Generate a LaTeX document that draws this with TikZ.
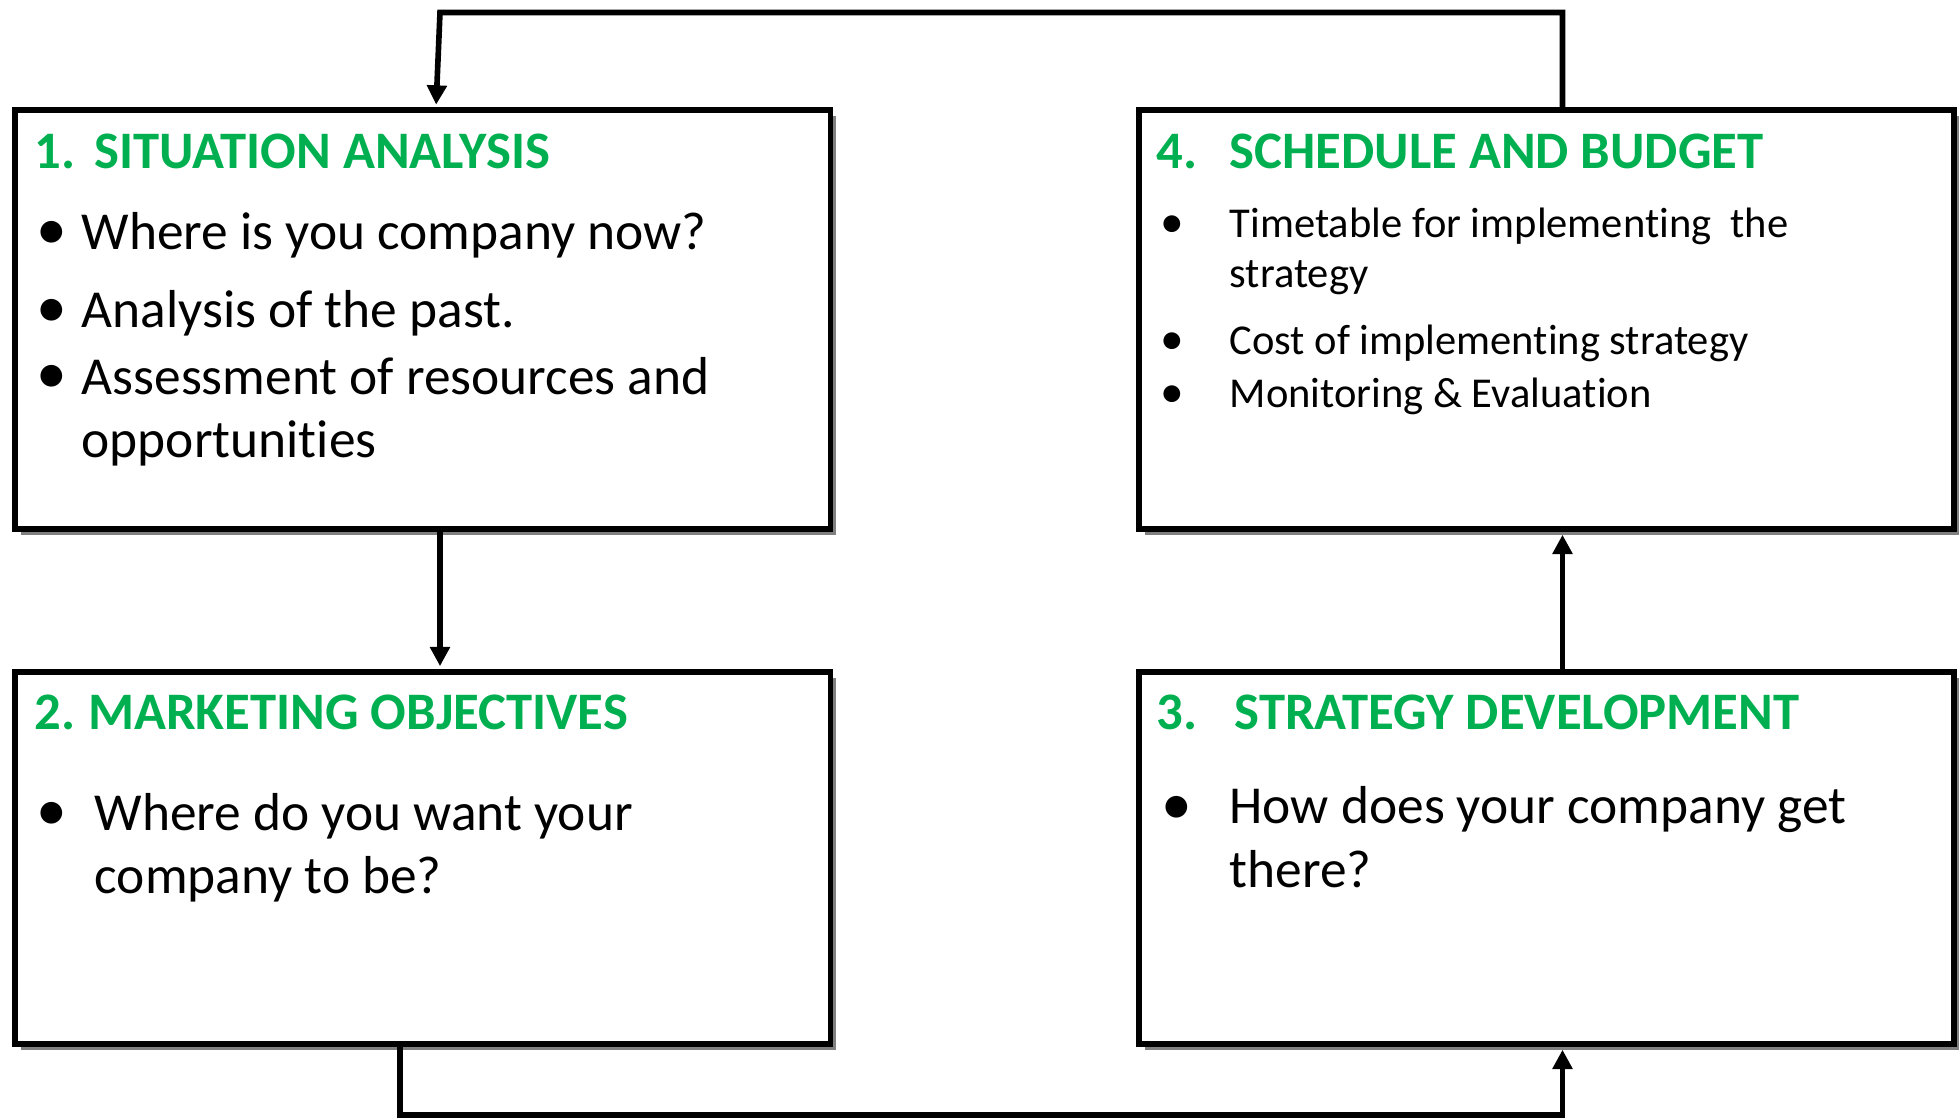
\documentclass[tikz,border=0pt]{standalone}
\usepackage{fontspec}
\setmainfont[Ligatures={NoCommon,NoContextual}]{Carlito}
\usetikzlibrary{arrows.meta, positioning, shadows, calc}
\definecolor{titleGreen}{HTML}{00B050}
\definecolor{shadowGray}{HTML}{808080}

\begin{document}
\begin{tikzpicture}[
    panel/.style={draw, line width=1.7pt, fill=white, minimum width=8.15cm, inner sep=0pt, anchor=north west,
        drop shadow={shadow xshift=0.06cm, shadow yshift=-0.06cm, fill=shadowGray, opacity=1}},
    heading/.style={font=\fontsize{15}{18}\selectfont\bfseries, text=titleGreen, anchor=base west, inner sep=0pt},
    point/.style={font=\fontsize{15.2}{18.2}\selectfont, anchor=base west, inner sep=0pt, align=left},
    smallpoint/.style={font=\fontsize{12.1}{14.2}\selectfont, anchor=base west, inner sep=0pt, align=left},
    dot/.style={font=\fontsize{17.5}{18}\selectfont, anchor=base west, inner sep=0pt},
    smalldot/.style={font=\fontsize{13.5}{14}\selectfont, anchor=base west, inner sep=0pt},
    arrow/.style={line width=1.6pt, shorten >=0.8pt, -{Triangle[length=5.5pt, width=5.5pt]}},
]
    \useasboundingbox (0,0) rectangle (19.59,11.18);

    % Boxes
    \node[panel, minimum height=4.185cm] (situation) at (0.125,10.105) {};
    \node[panel, minimum height=3.72cm] (objectives) at (0.125,4.49) {};
    \node[panel, minimum height=3.72cm] (strategy) at (11.36,4.49) {};
    \node[panel, minimum height=4.185cm] (schedule) at (11.36,10.105) {};

    % Box 1: Situation analysis
    \node[heading] (situationTitle) at (0.34,9.49) {\makebox[0.6cm][l]{1.}SITUATION ANALYSIS};
    \node[dot] (s1dot) at (0.36,8.68) {•};
    \node[point] (s1) at (0.81,8.68) {Where is you company now?};
    \node[dot] (s2dot) at (0.36,7.90) {•};
    \node[point] (s2) at (0.81,7.90) {Analysis of the past.};
    \node[dot] (s3dot) at (0.36,7.24) {•};
    \node[point] (s3) at (0.81,6.60) {Assessment of resources and\\opportunities};

    % Box 2: Marketing objectives
    \node[heading] (objectivesTitle) at (0.34,3.88) {\makebox[0.535cm][l]{2.}MARKETING OBJECTIVES};
    \node[dot] (o1dot) at (0.36,2.87) {•};
    \node[point] (o1) at (0.94,2.24) {Where do you want your\\company to be?};

    % Box 3: Strategy development
    \node[heading] (strategyTitle) at (11.56,3.88) {\makebox[0.78cm][l]{3.}STRATEGY DEVELOPMENT};
    \node[dot] (d1dot) at (11.61,2.93) {•};
    \node[point] (d1) at (12.29,2.305) {How does your company get\\there?};

    % Box 4: Schedule and budget
    \node[heading] (scheduleTitle) at (11.56,9.49) {\makebox[0.73cm][l]{4.}SCHEDULE AND BUDGET};
    \node[smalldot] (b1dot) at (11.60,8.805) {•};
    \node[smallpoint] (b1) at (12.29,8.305) {Timetable for implementing\ \ the\\strategy};
    \node[smalldot] (b2dot) at (11.60,7.63) {•};
    \node[smallpoint] (b2) at (12.29,7.63) {Cost of implementing strategy};
    \node[smalldot] (b3dot) at (11.60,7.105) {•};
    \node[smallpoint] (b3) at (12.29,7.105) {Monitoring \& Evaluation};

    % Loop corners
    \coordinate (topL) at (4.40,11.055);
    \coordinate (topR) at (15.625,11.055);
    \coordinate (botL) at (4.00,0.03);
    \coordinate (botR) at (15.625,0.03);
    \coordinate (downX) at (4.40,0);
    \coordinate (inX) at (4.36,0);

    % Arrows
    \draw[arrow] (situation.south -| downX) -- (objectives.north -| downX);
    \draw[arrow] (objectives.south -| botL) -- (botL) -- (botR) -- (strategy.south -| botR);
    \draw[arrow] (strategy.north -| botR) -- (schedule.south -| botR);
    \draw[arrow] (schedule.north -| topR) -- (topR) -- (topL) -- (situation.north -| inX);
\end{tikzpicture}
\end{document}
